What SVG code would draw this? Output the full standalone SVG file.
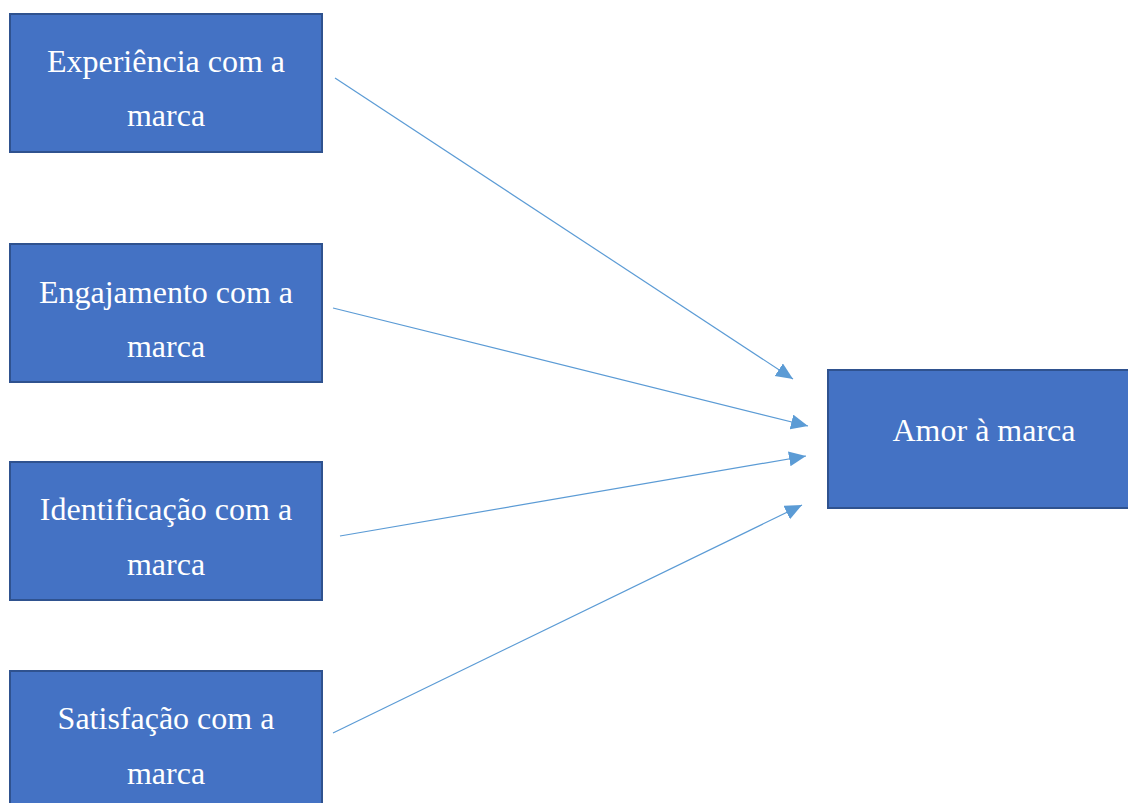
<svg xmlns="http://www.w3.org/2000/svg" width="1128" height="803" viewBox="0 0 1128 803">
<style>
.box{fill:#4472C4;stroke:#2F528F;stroke-width:2}
.t{font-family:"Liberation Serif","Times New Roman",serif;font-size:32px;fill:#FFFFFF;text-anchor:middle}
.c{stroke:#5B9BD5;stroke-width:1.2;fill:none;marker-end:url(#ah)}
</style>
<defs>
<marker id="ah" markerUnits="userSpaceOnUse" markerWidth="20" markerHeight="16" refX="17" refY="7.5" orient="auto">
<path d="M0,0 L17,7.5 L0,15 Z" fill="#5B9BD5"/>
</marker>
</defs>
<rect width="1128" height="803" fill="#FFFFFF"/>
<g id="n1"><rect class="box" x="10" y="14" width="312" height="138"/><text class="t" x="166" y="72">Experiência com a</text><text class="t" x="166" y="126">marca</text></g>
<g id="n2"><rect class="box" x="10" y="244" width="312" height="138"/><text class="t" x="166" y="303">Engajamento com a</text><text class="t" x="166" y="357">marca</text></g>
<g id="n3"><rect class="box" x="10" y="462" width="312" height="138"/><text class="t" x="166" y="520">Identificação com a</text><text class="t" x="166" y="575">marca</text></g>
<g id="n4"><rect class="box" x="10" y="671" width="312" height="140"/><text class="t" x="166" y="729">Satisfação com a</text><text class="t" x="166" y="784">marca</text></g>
<g id="n5"><rect class="box" x="828" y="370" width="310" height="138"/><text class="t" x="984" y="441">Amor à marca</text></g>
<g id="connectors">
<line class="c" x1="335" y1="78" x2="793" y2="379"/>
<line class="c" x1="333" y1="308" x2="808" y2="426"/>
<line class="c" x1="340" y1="536" x2="806" y2="456"/>
<line class="c" x1="333" y1="733" x2="802" y2="505"/>
</g>
</svg>
